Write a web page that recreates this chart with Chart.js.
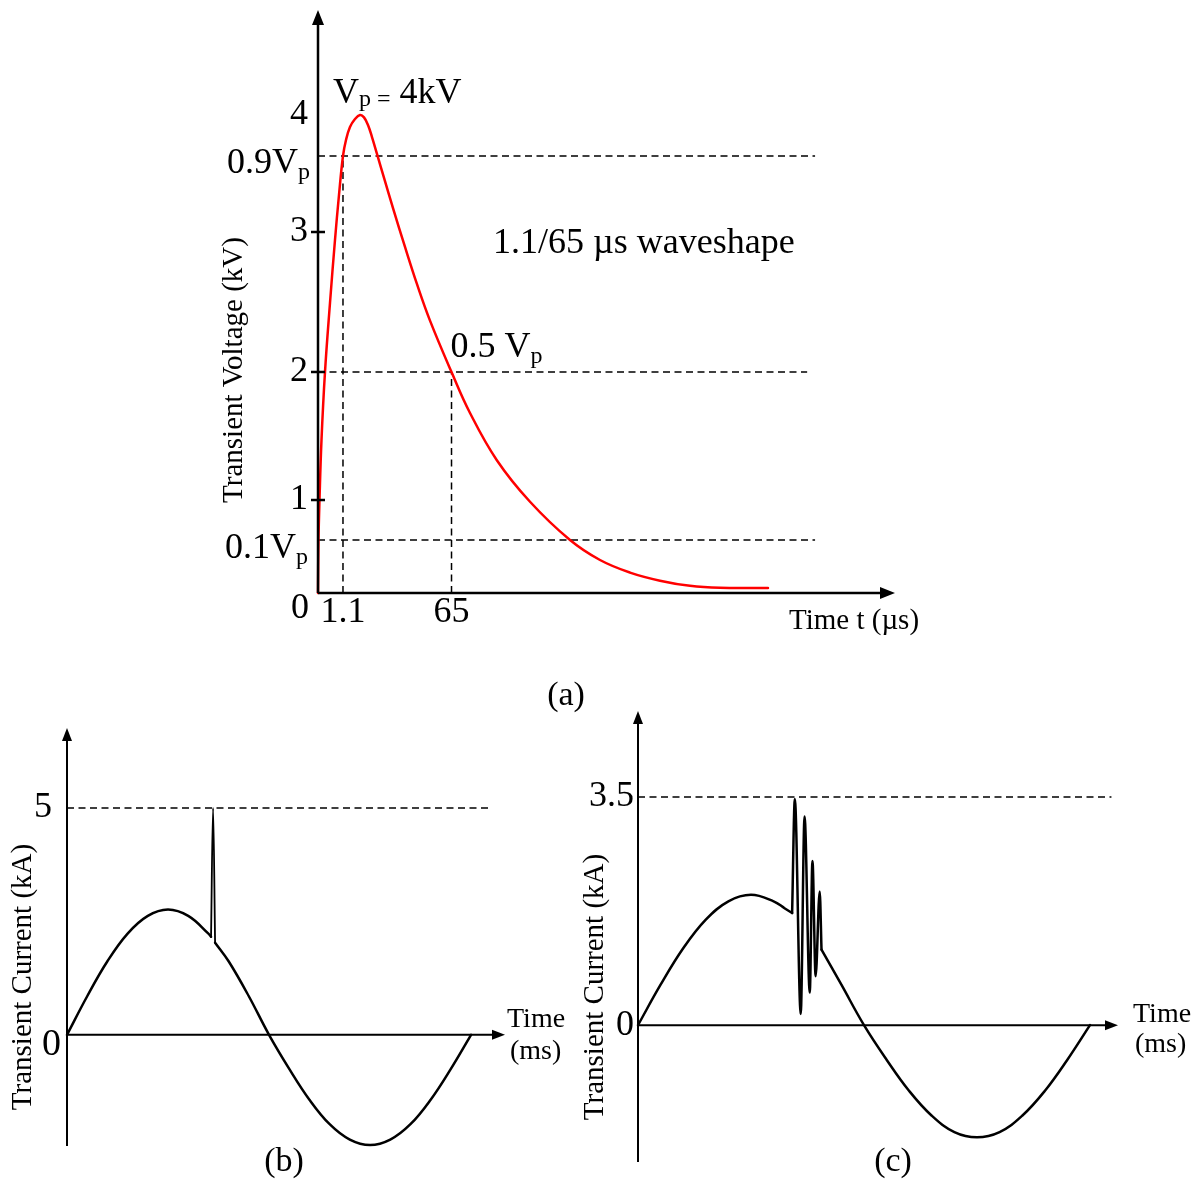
<!DOCTYPE html>
<html><head><meta charset="utf-8">
<script src="https://cdn.jsdelivr.net/npm/chart.js@4/dist/chart.umd.min.js"></script>
<style>
html,body{margin:0;padding:0;background:#fff;}
#wrap{position:relative;width:1195px;height:1182px;overflow:hidden;background:#fff;}
canvas{position:absolute;}
</style></head><body>
<div id="wrap">
<canvas id="ca" width="1195" height="720" style="left:0;top:0"></canvas>
<canvas id="cb" width="590" height="482" style="left:0;top:700px"></canvas>
<canvas id="cc" width="635" height="482" style="left:560px;top:700px"></canvas>
</div>
<script>
// ---------- (a) 1.1/65 µs transient voltage ----------
const aTimeUs  = [0, 0.022, 0.066, 0.154, 0.308, 0.528, 0.748, 0.924, 1.1, 2.87, 5.22, 8.17, 11.11, 13.47, 15.82, 18.18, 21.12, 25.83, 30.55, 37.61, 44.68, 52.33, 65, 75.97, 91.98, 111.55, 135.27, 153.06, 170.85, 188.64, 206.43, 224.22, 252.68];
const aVoltKV  = [0, 0.4, 1.0, 1.469, 2.0, 2.493, 2.943, 3.292, 3.6, 3.756, 3.883, 3.961, 4.0, 3.977, 3.902, 3.785, 3.62, 3.401, 3.189, 2.893, 2.627, 2.367, 2.0, 1.68, 1.309, 0.974, 0.40, 0.249, 0.154, 0.093, 0.054, 0.039, 0.038];
const aLevelsKV   = [3.6, 2.0, 0.4];        // 0.9Vp, 0.5Vp, 0.1Vp
const aLevelEndUs = [280.6, 275.9, 280.6];
const aMarkersUs  = [1.1, 65];              // front time, time to half value
const aMarkerTopKV = [3.6, 2.0];
const aTickKV     = [1, 2, 3, 4];
const aTickMarkKV = [1, 2, 3];
const aTickUs     = [1.1, 65];

// ---------- (b) transient current, single spike ----------
const bTimeMs    = [0, 1, 2, 3, 4, 5, 6, 7, 7.13, 7.23, 7.33, 8, 9, 10, 11, 12, 13, 14, 15, 16, 17, 18, 19, 20];
const bCurrentKA = [0, 0.85, 1.62, 2.23, 2.62, 2.76, 2.62, 2.23, 2.16, 5.0, 2.03, 1.62, 0.85, 0, -0.75, -1.43, -1.97, -2.31, -2.43, -2.31, -1.97, -1.43, -0.75, 0];
const bSpikeIdx  = [8, 10];                 // first and last point of the spike
const bPeakKA = 5, bPeakEndMs = 21.0;
const bTickKA = [5];

// ---------- (c) transient current, oscillatory ----------
const cTimeMs    = [0, 1, 2, 3, 4, 5, 6, 6.5, 6.82, 6.94, 7.2, 7.37, 7.6, 7.72, 7.86, 8.04, 8.12, 9, 10, 11, 12, 13, 14, 15, 16, 17, 18, 19, 20];
const cCurrentKA = [0, 0.62, 1.18, 1.62, 1.9, 2.0, 1.9, 1.79, 1.72, 3.47, 0.17, 3.2, 0.5, 2.52, 0.75, 2.05, 1.16, 0.62, 0, -0.53, -1.01, -1.39, -1.64, -1.72, -1.64, -1.39, -1.01, -0.53, 0];
const cOscIdx    = [8, 16];                 // first and last point of the oscillation
const cPeakKA = 3.5, cPeakEndMs = 20.95;
const cTickKA = [0, 3.5];

// ---------- setup ----------
const FONT = "'Liberation Serif','Times New Roman',serif";
Chart.defaults.font.family = FONT;
Chart.defaults.color = '#000';

// piecewise (hand-drawn, non-uniform) axes of figure (a)
const PW = {
  ca: {
    x: { v: [0, 1.1, 65, 328], f: [0, 0.0433, 0.2314, 1] },
    y: { v: [0, 0.4, 1, 2, 3, 3.6, 4, 5], f: [0, 0.0909, 0.1595, 0.3791, 0.6192, 0.7496, 0.8199, 1] }
  }
};
const Lin = Chart.LinearScale;
class PiecewiseScale extends Lin {
  _bp() { return PW[this.chart.canvas.id][this.axis]; }
  getPixelForValue(value) {
    if (value === null || value === undefined || isNaN(value)) return NaN;
    const {v, f} = this._bp();
    let i = 0;
    while (i < v.length - 2 && value > v[i + 1]) i++;
    const d = f[i] + (value - v[i]) / (v[i + 1] - v[i]) * (f[i + 1] - f[i]);
    return this.getPixelForDecimal(d);
  }
  getValueForPixel(pixel) {
    const d = this.getDecimalForPixel(pixel);
    const {v, f} = this._bp();
    let i = 0;
    while (i < f.length - 2 && d > f[i + 1]) i++;
    return v[i] + (d - f[i]) / (f[i + 1] - f[i]) * (v[i + 1] - v[i]);
  }
}
PiecewiseScale.id = 'piecewise';
PiecewiseScale.defaults = Lin.defaults;
Chart.register(PiecewiseScale);

function fixSize(size) {
  return s => {
    if (s.isHorizontal()) s.height = size; else s.width = size;
    s.paddingTop = 0; s.paddingBottom = 0; s.paddingLeft = 0; s.paddingRight = 0;
  };
}
function setTicks(vals) { return s => { s.ticks = vals.map(v => ({value: v})); }; }

function pts(xs, ys, from, to) {
  const out = [];
  for (let i = from; i <= to; i++) out.push({x: xs[i], y: ys[i]});
  return out;
}
function smooth(data, color, width) {
  return { data, borderColor: color, borderWidth: width, pointRadius: 0, fill: false,
    tension: 0.4, clip: false, borderJoinStyle: 'round', borderCapStyle: 'round' };
}
function burst(data, color, width) {
  return { data, borderColor: color, borderWidth: width, pointRadius: 0, fill: false,
    cubicInterpolationMode: 'monotone', clip: false, borderJoinStyle: 'round', borderCapStyle: 'round' };
}
function dashed(data) {
  return { data, borderColor: '#000', borderWidth: 1.5, borderDash: [7, 4.5],
    pointRadius: 0, fill: false, tension: 0, clip: false };
}

function drawRich(ctx, parts, x, y, align) {
  let total = 0;
  const ws = parts.map(p => { ctx.font = p.s + 'px ' + FONT; const w = ctx.measureText(p.t).width; total += w; return w; });
  let cx = align === 'right' ? x - total : (align === 'center' ? x - total / 2 : x);
  ctx.textAlign = 'left'; ctx.textBaseline = 'alphabetic';
  parts.forEach((p, i) => { ctx.font = p.s + 'px ' + FONT; ctx.fillText(p.t, cx, y + (p.dy || 0)); cx += ws[i]; });
}

const DECOR = {
  ca: {
    axes: {width: 2.5, len: 15, half: 6},
    tickMarks: aTickMarkKV, tickHalf: 7,
    texts: [
      {x: 234, y: 370, rotate: true, size: 29, text: 'Transient Voltage (kV)'},
      {xv: 0, dx: -9, yv: 0, dy: 25, align: 'right', parts: [{t: '0', s: 36}]},
      {xv: 0, dx: -8, yv: 3.6, dy: 17, align: 'right', parts: [{t: '0.9V', s: 36}, {t: 'p', s: 24, dy: 6}]},
      {xv: 0, dx: -10, yv: 0.4, dy: 18, align: 'right', parts: [{t: '0.1V', s: 36}, {t: 'p', s: 24, dy: 6}]},
      {xv: 0, dx: 15, yv: 4, dy: -12, parts: [{t: 'V', s: 36}, {t: 'p', s: 24, dy: 3}, {t: ' =', s: 24, dy: 3}, {t: ' 4kV', s: 36}]},
      {xv: 65, dx: -1, yv: 2, dy: -15, parts: [{t: '0.5 V', s: 36}, {t: 'p', s: 24, dy: 6}]},
      {x: 493, y: 253, parts: [{t: '1.1/65 µs waveshape', s: 36}]},
      {x: 789, y: 629, parts: [{t: 'Time t (µs)', s: 29}]},
      {x: 566, y: 705, align: 'center', parts: [{t: '(a)', s: 34}]}
    ]
  },
  cb: {
    axes: {width: 2, len: 13, half: 5},
    texts: [
      {x: 23, y: 277, rotate: true, size: 29, text: 'Transient Current (kA)'},
      {xv: 0, dx: -6, yv: 0, dy: 20, align: 'right', parts: [{t: '0', s: 38}]},
      {x: 507, y: 327, parts: [{t: 'Time', s: 28}]},
      {x: 510, y: 359, parts: [{t: '(ms)', s: 28}]},
      {x: 284, y: 471, align: 'center', parts: [{t: '(b)', s: 34}]}
    ]
  },
  cc: {
    axes: {width: 2, len: 13, half: 5},
    texts: [
      {x: 35, y: 287, rotate: true, size: 29, text: 'Transient Current (kA)'},
      {x: 573, y: 322, parts: [{t: 'Time', s: 28}]},
      {x: 575, y: 352, parts: [{t: '(ms)', s: 28}]},
      {x: 333, y: 471, align: 'center', parts: [{t: '(c)', s: 34}]}
    ]
  }
};

const decorPlugin = {
  id: 'decor',
  afterDraw(chart) {
    const cfg = DECOR[chart.canvas.id];
    const ctx = chart.ctx, xs = chart.scales.x, ys = chart.scales.y, ca = chart.chartArea;
    ctx.save();
    ctx.strokeStyle = '#000'; ctx.fillStyle = '#000'; ctx.setLineDash([]);
    const A = cfg.axes;
    const x0 = xs.getPixelForValue(0), y0 = ys.getPixelForValue(0);
    ctx.lineWidth = A.width;
    ctx.beginPath();
    ctx.moveTo(x0, y0); ctx.lineTo(ca.right - A.len + 2, y0);
    ctx.moveTo(x0, ca.bottom); ctx.lineTo(x0, ca.top + A.len - 2);
    ctx.stroke();
    ctx.beginPath(); ctx.moveTo(ca.right, y0); ctx.lineTo(ca.right - A.len, y0 - A.half); ctx.lineTo(ca.right - A.len, y0 + A.half); ctx.closePath(); ctx.fill();
    ctx.beginPath(); ctx.moveTo(x0, ca.top); ctx.lineTo(x0 - A.half, ca.top + A.len); ctx.lineTo(x0 + A.half, ca.top + A.len); ctx.closePath(); ctx.fill();
    (cfg.tickMarks || []).forEach(v => {
      const y = ys.getPixelForValue(v);
      ctx.beginPath(); ctx.moveTo(x0 - cfg.tickHalf, y); ctx.lineTo(x0 + cfg.tickHalf, y); ctx.stroke();
    });
    (cfg.texts || []).forEach(t => {
      const x = t.xv === undefined ? t.x : xs.getPixelForValue(t.xv) + (t.dx || 0);
      const y = t.yv === undefined ? t.y : ys.getPixelForValue(t.yv) + (t.dy || 0);
      if (t.rotate) {
        ctx.save(); ctx.translate(x, y); ctx.rotate(-Math.PI / 2);
        ctx.font = t.size + 'px ' + FONT; ctx.textAlign = 'center'; ctx.textBaseline = 'middle';
        ctx.fillText(t.text, 0, 0); ctx.restore();
        return;
      }
      drawRich(ctx, t.parts, x, y, t.align || 'left');
    });
    ctx.restore();
  }
};

const common = {
  responsive: false, animation: false, devicePixelRatio: 1, events: [],
  plugins: { legend: {display: false}, tooltip: {enabled: false} }
};

// ----- chart (a) -----
const aDatasets = [smooth(pts(aTimeUs, aVoltKV, 0, aTimeUs.length - 1), '#ff0000', 2.5)];
aLevelsKV.forEach((lv, i) => aDatasets.push(dashed([{x: 0, y: lv}, {x: aLevelEndUs[i], y: lv}])));
aMarkersUs.forEach((t, i) => aDatasets.push(dashed([{x: t, y: 0}, {x: t, y: aMarkerTopKV[i]}])));
new Chart(document.getElementById('ca'), {
  type: 'line',
  data: { datasets: aDatasets },
  plugins: [decorPlugin],
  options: Object.assign({}, common, {
    layout: { padding: {left: 0, top: 10, right: 300, bottom: 0} },
    scales: {
      x: { type: 'piecewise', min: 0, max: 328, afterFit: fixSize(127), afterBuildTicks: setTicks(aTickUs),
           grid: {display: false, drawTicks: false}, border: {display: false},
           ticks: {autoSkip: false, maxRotation: 0, padding: 2, font: {size: 36, lineHeight: 1}, callback: v => String(v)} },
      y: { type: 'piecewise', min: 0, max: 5, afterFit: fixSize(318), afterBuildTicks: setTicks(aTickKV),
           grid: {display: false, drawTicks: false}, border: {display: false},
           ticks: {padding: 10, font: {size: 36, lineHeight: 1}, callback: v => String(v)} }
    }
  })
});

// ----- chart (b) -----
const bLast = bTimeMs.length - 1;
new Chart(document.getElementById('cb'), {
  type: 'line',
  data: { datasets: [
    burst(pts(bTimeMs, bCurrentKA, bSpikeIdx[0], bSpikeIdx[1]), '#000', 1.8),
    smooth(pts(bTimeMs, bCurrentKA, 0, bSpikeIdx[0]), '#000', 2.5),
    smooth(pts(bTimeMs, bCurrentKA, bSpikeIdx[1], bLast), '#000', 2.5),
    dashed([{x: 0, y: bPeakKA}, {x: bPeakEndMs, y: bPeakKA}])
  ] },
  plugins: [decorPlugin],
  options: Object.assign({}, common, {
    layout: { padding: {left: 0, top: 28, right: 85, bottom: 36} },
    scales: {
      x: { type: 'linear', display: false, min: 0, max: 21.68 },
      y: { type: 'linear', min: -2.45, max: 6.76, afterFit: fixSize(67), afterBuildTicks: setTicks(bTickKA),
           grid: {display: false, drawTicks: false}, border: {display: false},
           ticks: {padding: 15, font: {size: 36, lineHeight: 1}, callback: v => String(v)} }
    }
  })
});

// ----- chart (c) -----
const cLast = cTimeMs.length - 1;
new Chart(document.getElementById('cc'), {
  type: 'line',
  data: { datasets: [
    burst(pts(cTimeMs, cCurrentKA, cOscIdx[0], cOscIdx[1]), '#000', 2.5),
    smooth(pts(cTimeMs, cCurrentKA, 0, cOscIdx[0]), '#000', 2.5),
    smooth(pts(cTimeMs, cCurrentKA, cOscIdx[1], cLast), '#000', 2.5),
    dashed([{x: 0, y: cPeakKA}, {x: cPeakEndMs, y: cPeakKA}])
  ] },
  plugins: [decorPlugin],
  options: Object.assign({}, common, {
    layout: { padding: {left: 0, top: 11, right: 77, bottom: 20} },
    scales: {
      x: { type: 'linear', display: false, min: 0, max: 21.24 },
      y: { type: 'linear', min: -2.10, max: 4.82, afterFit: fixSize(78), afterBuildTicks: setTicks(cTickKA),
           grid: {display: false, drawTicks: false}, border: {display: false},
           ticks: {padding: 4, font: {size: 36, lineHeight: 1}, callback: v => String(v)} }
    }
  })
});
</script>
</body></html>
